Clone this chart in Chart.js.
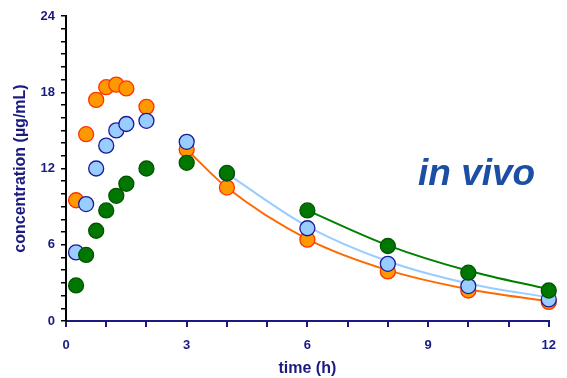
<!DOCTYPE html>
<html>
<head>
<meta charset="utf-8">
<script src="https://cdn.jsdelivr.net/npm/chart.js@4"></script>
<style>
  body { margin: 0; background: #fff; }
  #wrap { width: 567px; height: 378px; }
</style>
</head>
<body>
<div id="wrap"><canvas id="grafico" width="567" height="378"></canvas></div>
<script>
// Tiempos de muestreo (h)
const tiempos = [0.25, 0.5, 0.75, 1, 1.25, 1.5, 2, 3, 4, 6, 8, 10, 12];

// Concentraciones medidas (µg/mL)
const serieNaranja = [9.5, 14.7, 17.4, 18.4, 18.6, 18.3, 16.85, 13.5, 10.5, 6.4, 3.9, 2.4, 1.5];
const serieAzul = [5.4, 9.2, 12.0, 13.8, 15.0, 15.5, 15.75, 14.1, 11.6, 7.3, 4.5, 2.75, 1.7];
const serieVerde = [2.8, 5.2, 7.1, 8.7, 9.85, 10.8, 12.0, 12.45, 11.65, 8.7, 5.9, 3.8, 2.4];

// Curvas de ajuste (fase de eliminacion)
const tiemposNaranja = [3, 4, 6, 8, 10, 12];
const curvaNaranja = [13.5, 10.5, 6.45, 4.0, 2.5, 1.55];
const tiemposAzul = [4, 6, 8, 10, 12];
const curvaAzul = [11.6, 7.45, 4.7, 2.95, 1.85];
const tiemposVerde = [6, 8, 10, 12];
const curvaVerde = [8.7, 5.95, 3.95, 2.5];

// Etiquetas de los ejes
const ticksX = [0, 3, 6, 9, 12];
const ticksY = [0, 6, 12, 18, 24];

const azulOscuro = '#1a1a80';

function puntos(xs, ys) {
    return xs.map((x, i) => ({ x: x, y: ys[i] }));
}

// Texto "in vivo"
const textoInVivo = {
    id: 'textoInVivo',
    afterDraw(chart) {
        const ctx = chart.ctx;
        ctx.save();
        ctx.font = 'italic bold 37px "Liberation Sans", Arial, sans-serif';
        ctx.fillStyle = '#1c4fa3';
        ctx.textBaseline = 'alphabetic';
        ctx.fillText('in vivo', 418, 185);
        ctx.restore();
    }
};

const ctx = document.getElementById('grafico').getContext('2d');

const grafico = new Chart(ctx, {
    type: 'scatter',
    data: {
        datasets: [
            {
                type: 'line',
                data: puntos(tiemposNaranja, curvaNaranja),
                borderColor: '#ff6a00',
                borderWidth: 2,
                pointRadius: 0,
                cubicInterpolationMode: 'monotone',
                fill: false,
                order: 6
            },
            {
                type: 'line',
                data: puntos(tiemposAzul, curvaAzul),
                borderColor: '#99ccff',
                borderWidth: 2,
                pointRadius: 0,
                cubicInterpolationMode: 'monotone',
                fill: false,
                order: 5
            },
            {
                type: 'line',
                data: puntos(tiemposVerde, curvaVerde),
                borderColor: '#008000',
                borderWidth: 2,
                pointRadius: 0,
                cubicInterpolationMode: 'monotone',
                fill: false,
                order: 4
            },
            {
                data: puntos(tiempos, serieNaranja),
                backgroundColor: '#ff9900',
                borderColor: '#ff3300',
                borderWidth: 1.3,
                pointRadius: 7.5,
                order: 3
            },
            {
                data: puntos(tiempos, serieAzul),
                backgroundColor: '#99ccff',
                borderColor: '#1a1a99',
                borderWidth: 1.3,
                pointRadius: 7.5,
                order: 2
            },
            {
                data: puntos(tiempos, serieVerde),
                backgroundColor: '#007700',
                borderColor: '#005500',
                borderWidth: 1.3,
                pointRadius: 7.5,
                order: 1
            }
        ]
    },
    options: {
        responsive: false,
        animation: false,
        clip: false,
        layout: { padding: { top: 16, right: 10, left: 0, bottom: 0 } },
        plugins: {
            legend: { display: false },
            tooltip: { enabled: false }
        },
        scales: {
            x: {
                type: 'linear',
                min: 0,
                max: 12,
                afterFit(scale) { scale.height = 57; },
                border: { color: azulOscuro, width: 2 },
                grid: {
                    drawOnChartArea: false,
                    color: azulOscuro,
                    lineWidth: 2,
                    tickLength: 6
                },
                ticks: {
                    stepSize: 1,
                    autoSkip: false,
                    maxRotation: 0,
                    padding: 11,
                    color: azulOscuro,
                    font: { family: '"Liberation Sans", Arial, sans-serif', size: 13, weight: 'bold' },
                    callback: v => ticksX.includes(v) ? String(v) : ''
                },
                title: {
                    display: true,
                    text: 'time (h)',
                    color: azulOscuro,
                    padding: { top: 0, bottom: 0 },
                    font: { family: '"Liberation Sans", Arial, sans-serif', size: 16, weight: 'bold' }
                }
            },
            y: {
                min: 0,
                max: 24,
                afterFit(scale) { scale.width = 66; },
                border: { color: '#000000', width: 2 },
                grid: {
                    drawOnChartArea: false,
                    color: '#000000',
                    lineWidth: 1.5,
                    tickLength: 5
                },
                ticks: {
                    stepSize: 1,
                    autoSkip: false,
                    padding: 6,
                    color: azulOscuro,
                    font: { family: '"Liberation Sans", Arial, sans-serif', size: 13, weight: 'bold' },
                    callback: v => ticksY.includes(v) ? String(v) : ''
                },
                title: {
                    display: true,
                    text: 'concentration (µg/mL)',
                    color: azulOscuro,
                    padding: { top: 11, bottom: 0 },
                    font: { family: '"Liberation Sans", Arial, sans-serif', size: 16, weight: 'bold' }
                }
            }
        }
    },
    plugins: [textoInVivo]
});
</script>
</body>
</html>
